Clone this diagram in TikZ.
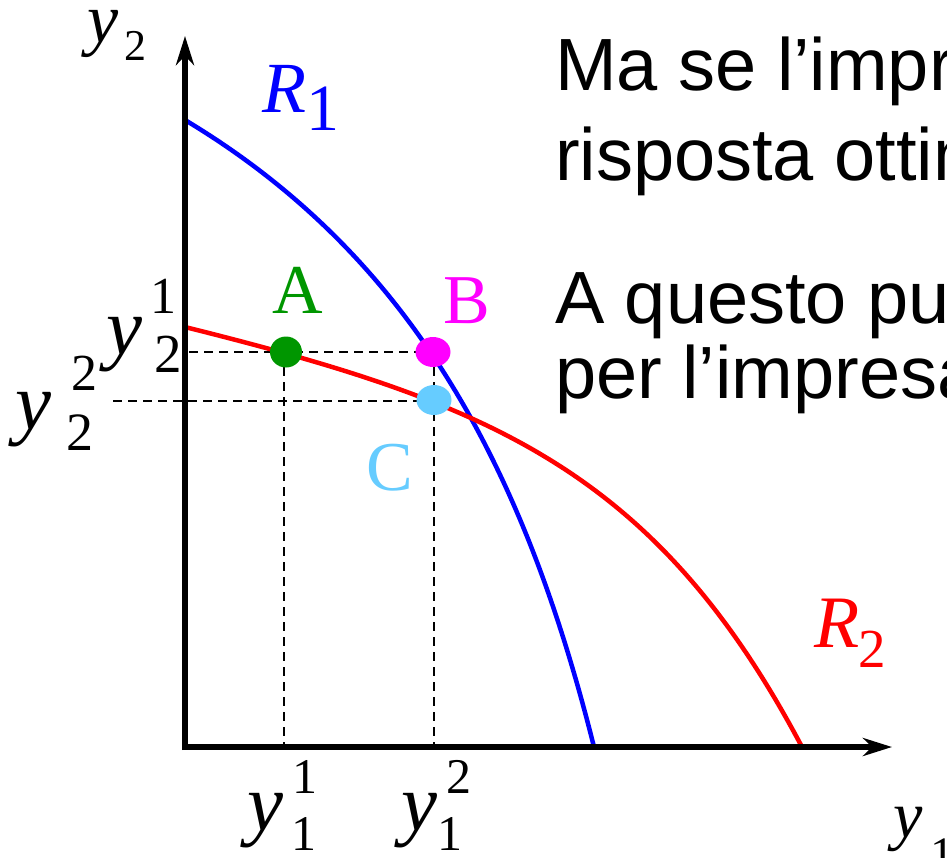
\documentclass[tikz,border=0pt]{standalone}
\usepackage{fontspec}
\setmainfont{Liberation Serif}
\newfontfamily\arialfont{Liberation Sans}
\usetikzlibrary{arrows.meta,shapes.geometric}
\definecolor{ptgreen}{RGB}{0,150,0}
\definecolor{ptmag}{RGB}{255,0,255}
\definecolor{ptcyan}{RGB}{102,204,255}
\newcommand\fsz[1]{\fontsize{#1}{#1}\selectfont}
\begin{document}
\begin{tikzpicture}[x=1pt,y=-1pt,
  lbl/.style={anchor=base west,inner sep=0pt,outer sep=0pt},
  axisline/.style={line width=5.5pt,-{Stealth[length=29pt,width=18pt,inset=9pt]}},
  dashline/.style={line width=2.6pt,dash pattern=on 8.5pt off 6.5pt},
  curve/.style={line width=4.5pt},
  dotnode/.style={ellipse,inner sep=0pt,outer sep=0pt,draw=none},
  bigtxt/.style={lbl,font=\arialfont\fsz{74}}]
\useasboundingbox (0,0) rectangle (947,857);
% coordinates
\coordinate (O) at (185,747);
\coordinate (ytop) at (185,36);
\coordinate (xend) at (892,747);
\coordinate (pA) at (284,352);
\coordinate (pB) at (434,352);
\coordinate (pC) at (434,401);
\coordinate (l1) at (189,352);
\coordinate (l2) at (113,401);
\coordinate (b0) at (185,120);
\coordinate (b1) at (594,747);
\coordinate (r0) at (185,327);
\coordinate (r1) at (802,747);
% dashed guides
\draw[dashline] (l1) -- (pB);
\draw[dashline] (l2) -- (pC);
\draw[dashline] (pA) -- (pA |- O);
\draw[dashline] (pB) -- (pB |- O);
% curves
\draw[curve,blue] (b0) .. controls (415,258) and (525,472) .. (b1);
\draw[curve,red] (r0) .. controls (485,402) and (654,467) .. (r1);
% axes
\draw[axisline] (185,750) -- (ytop);
\draw[axisline] (183,747) -- (xend);
% dots
\node[dotnode,fill=ptgreen,minimum width=32pt,minimum height=31pt] (A) at (286,352) {};
\node[dotnode,fill=ptmag,minimum width=35pt,minimum height=30pt] (B) at (433,352) {};
\node[dotnode,fill=ptcyan,minimum width=35pt,minimum height=30pt] (C) at (434,400) {};
% point labels
\node[lbl,font=\fsz{70},text=ptgreen] (Alab) at (272,313) {A};
\node[lbl,font=\fsz{70},text=ptmag] (Blab) at (443,323) {B};
\node[lbl,font=\fsz{70},text=ptcyan] (Clab) at (366,490) {C};
% curve labels
\node[lbl,font=\itshape\fsz{72},text=blue] (R1) at (262,112) {R};
\node[lbl,font=\fsz{66},text=blue] (R1s) at (306,130) {1};
\node[lbl,font=\itshape\fsz{74},text=red] (R2) at (814,647) {R};
\node[lbl,font=\fsz{55},text=red] (R2s) at (858,667) {2};
% axis labels
\node[lbl,font=\itshape\fsz{70}] (y2) at (87,42) {y};
\node[lbl,font=\fsz{44}] (y2s) at (124,60) {2};
\node[lbl,font=\itshape\fsz{66}] (y1) at (893,837) {y};
\node[lbl,font=\fsz{48}] (y1s) at (930,870) {1};
% tick labels
\node[lbl,font=\itshape\fsz{81}] (ya) at (106,354) {y};
\node[lbl,font=\fsz{52}] (yaup) at (150,313) {1};
\node[lbl,font=\fsz{55}] (yadn) at (154,372) {2};
\node[lbl,font=\itshape\fsz{81}] (yb) at (16,429) {y};
\node[lbl,font=\fsz{52}] (ybup) at (71,390) {2};
\node[lbl,font=\fsz{54}] (ybdn) at (66,450) {2};
\node[lbl,font=\itshape\fsz{81}] (yc) at (247,830) {y};
\node[lbl,font=\fsz{50}] (ycup) at (292,793) {1};
\node[lbl,font=\fsz{50}] (ycdn) at (291,850) {1};
\node[lbl,font=\itshape\fsz{81}] (yd) at (401,830) {y};
\node[lbl,font=\fsz{50}] (ydup) at (446,793) {2};
\node[lbl,font=\fsz{50}] (yddn) at (437,850) {1};
% right-hand text
\node[bigtxt] (t1) at (555,90) {Ma se l’impr};
\node[bigtxt] (t2) at (555,180) {risposta ottim};
\node[bigtxt] (t3) at (555,323) {A questo pu};
\node[bigtxt] (t4) at (555,398) {per l’impresa};
\end{tikzpicture}
\end{document}
